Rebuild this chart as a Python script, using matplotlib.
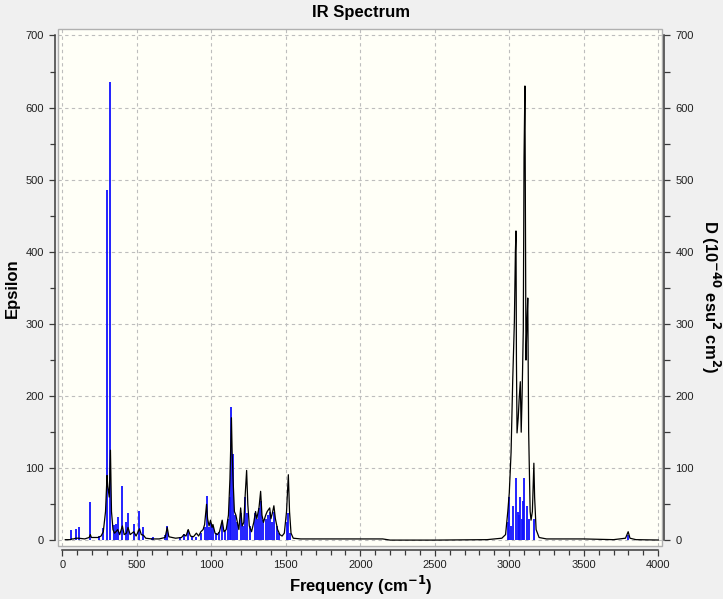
#!/usr/bin/env python3

import matplotlib
matplotlib.use("Agg")
import matplotlib.pyplot as plt
from matplotlib.patches import Rectangle
from matplotlib.ticker import MultipleLocator

# ============================================================
# DATA
# ============================================================
# stick spectrum: frequency (cm-1) and dipole strength D
stick_freq = [60, 90, 110, 188, 244, 271, 300, 323, 345, 359, 372, 403, 430, 441,
              480, 518, 542, 604, 611, 686, 704, 790, 816, 845, 872, 895, 930, 955,
              968, 985, 995, 1011, 1030, 1050, 1073, 1090, 1110, 1125, 1135, 1145,
              1160, 1175, 1197, 1215, 1228, 1240, 1260, 1290, 1305, 1320, 1331, 1345,
              1365, 1380, 1392, 1410, 1420, 1440, 1455, 1505, 1517, 1530,
              2990, 3000, 3012, 3028, 3043, 3056, 3066, 3074, 3085, 3095, 3101, 3117,
              3130, 3168, 3800]
stick_d = [15, 16, 19, 53, 6, 17, 486, 635, 21, 23, 32, 76, 26, 38,
           23, 41, 19, 3, 4, 7, 20, 5, 9, 14, 6, 5, 10, 18,
           62, 18, 24, 20, 10, 12, 24, 14, 30, 60, 185, 120,
           35, 25, 38, 20, 60, 38, 20, 38, 30, 45, 55, 28,
           30, 35, 40, 25, 40, 20, 10, 25, 38, 10,
           25, 60, 20, 48, 87, 40, 35, 60, 30, 55, 87, 48,
           30, 30, 8]

# broadened spectrum: frequency (cm-1) and epsilon
curve_freq = [20, 55, 62, 75, 90, 110, 150, 180, 188, 195, 240, 260, 275, 290, 300,
              305, 315, 323, 330, 340, 350, 360, 372, 385, 403, 415, 430, 441, 455,
              480, 495, 518, 530, 545, 560, 600, 650, 690, 704, 715, 760, 800, 816,
              830, 845, 860, 880, 900, 915, 930, 945, 955, 968, 975, 985, 995, 1005,
              1011, 1025, 1040, 1055, 1073, 1085, 1100, 1115, 1125, 1135, 1140, 1145,
              1155, 1165, 1175, 1185, 1197, 1207, 1218, 1228, 1237, 1245, 1255, 1270,
              1285, 1297, 1305, 1320, 1331, 1340, 1350, 1365, 1375, 1392, 1400, 1410,
              1420, 1430, 1445, 1460, 1475, 1490, 1505, 1517, 1525, 1535, 1550, 1600,
              1800, 2000, 2150, 2200, 2500, 2850, 2950, 2975, 2990, 3000, 3012, 3023,
              3034, 3041, 3045, 3048, 3052, 3060, 3066, 3074, 3080, 3086, 3094, 3099,
              3105, 3108, 3112, 3118, 3124, 3130, 3140, 3146, 3155, 3165, 3170, 3180,
              3200, 3250, 3500, 3700, 3780, 3798, 3810, 3850, 4000]
curve_eps = [1, 1, 2, 2, 3, 3, 2, 4, 8, 4, 4, 6, 12, 40, 90,
             75, 60, 125, 40, 15, 10, 12, 15, 8, 20, 8, 10, 18, 8,
             12, 6, 16, 8, 7, 3, 2, 2, 4, 18, 5, 3, 4, 8,
             6, 15, 6, 5, 10, 6, 12, 15, 22, 50, 30, 20, 28, 18,
             22, 10, 8, 12, 28, 12, 15, 35, 85, 170, 120, 90,
             40, 35, 25, 15, 45, 20, 25, 65, 97, 50, 20, 12,
             25, 40, 30, 45, 68, 35, 25, 35, 40, 45, 30, 38,
             48, 30, 15, 8, 6, 10, 40, 91, 40, 10, 3, 2,
             2, 2, 2, 0.4, 0.4, 1, 3, 8, 40, 66, 122, 222,
             302, 400, 429, 250, 149, 170, 195, 220, 150, 200, 292, 531,
             630, 478, 250, 300, 336, 150, 40, 28, 40, 107, 60, 15,
             4, 2, 2, 1, 3, 12, 3, 1, 0.5]

x_ticks = [0, 500, 1000, 1500, 2000, 2500, 3000, 3500, 4000]
y_ticks = [0, 100, 200, 300, 400, 500, 600, 700]

# ============================================================
# PLOT
# ============================================================
plt.rcParams["font.family"] = ["Liberation Sans", "DejaVu Sans"]

fig = plt.figure(figsize=(7.23, 5.99), dpi=100, facecolor="#F0F0F0")
ax = fig.add_axes([58 / 723, 1 - 546 / 599, 604 / 723, 517 / 599])
ax.set_facecolor("#FFFFF7")

ax.set_xlim(-29, 4025)
ax.set_ylim(-7.8, 709)

ax.grid(True, color="#BDBDBD", linestyle=(0, (3, 3)), linewidth=0.8)
ax.set_axisbelow(True)

ax.vlines(stick_freq, 0, stick_d, color="#1010FF", linewidth=1.3, zorder=3)
ax.plot(curve_freq, curve_eps, color="black", linewidth=0.9, zorder=4)

# light frame around plot area
ax.add_patch(Rectangle((0, 0), 1, 1, transform=ax.transAxes, fill=False,
                       edgecolor="#B0B0B0", linewidth=1.0, zorder=5, clip_on=False))

ax.set_xticks(x_ticks)
ax.set_yticks(y_ticks)
ax.xaxis.set_minor_locator(MultipleLocator(100))
ax.yaxis.set_minor_locator(MultipleLocator(50))

spine_col = "#3A3A3A"
ax.spines["top"].set_visible(False)
ax.spines["right"].set_visible(False)
ax.spines["left"].set_position(("outward", 2.2))
ax.spines["bottom"].set_position(("outward", 3.2))
ax.spines["left"].set_bounds(0, 700)
ax.spines["bottom"].set_bounds(0, 4000)
for s in ("left", "bottom"):
    ax.spines[s].set_color(spine_col)
    ax.spines[s].set_linewidth(1.1)

ax.tick_params(axis="both", which="major", direction="out", length=4.5, width=0.9,
               color=spine_col, labelsize=8, labelcolor="#202020")
ax.tick_params(axis="both", which="minor", direction="out", length=3.5, width=0.9,
               color=spine_col)
ax.tick_params(axis="x", pad=2.5)
ax.tick_params(axis="y", pad=3.5)

# right axis (D)
ax2 = ax.twinx()
ax2.set_ylim(ax.get_ylim())
ax2.set_yticks(y_ticks)
ax2.yaxis.set_minor_locator(MultipleLocator(50))
for s in ("top", "left", "bottom"):
    ax2.spines[s].set_visible(False)
ax2.spines["right"].set_position(("outward", 1.1))
ax2.spines["right"].set_bounds(0, 700)
ax2.spines["right"].set_color(spine_col)
ax2.spines["right"].set_linewidth(1.1)
ax2.tick_params(axis="y", which="major", direction="out", length=4.5, width=0.9,
                color=spine_col, labelsize=8, labelcolor="#202020", pad=4)
ax2.tick_params(axis="y", which="minor", direction="out", length=4.5, width=0.9,
                color=spine_col)

fig.text(361 / 723, 1 - 13 / 599, "IR Spectrum", ha="center", va="center",
         fontsize=12, fontweight="bold")
fig.text(361 / 723, 1 - 585 / 599, "Frequency (cm$^{\\mathbf{-1}}$)", ha="center",
         va="center", fontsize=12, fontweight="bold")
fig.text(12 / 723, 1 - 288 / 599, "Epsilon", ha="center", va="center",
         rotation=90, fontsize=12, fontweight="bold")
fig.text(711 / 723, 1 - 297 / 599,
         "D (10$^{\\mathbf{-40}}$ esu$^{\\mathbf{2}}$ cm$^{\\mathbf{2}}$)",
         ha="center", va="center", rotation=270, fontsize=12, fontweight="bold")

fig.savefig("out.png", dpi=100, facecolor=fig.get_facecolor())
